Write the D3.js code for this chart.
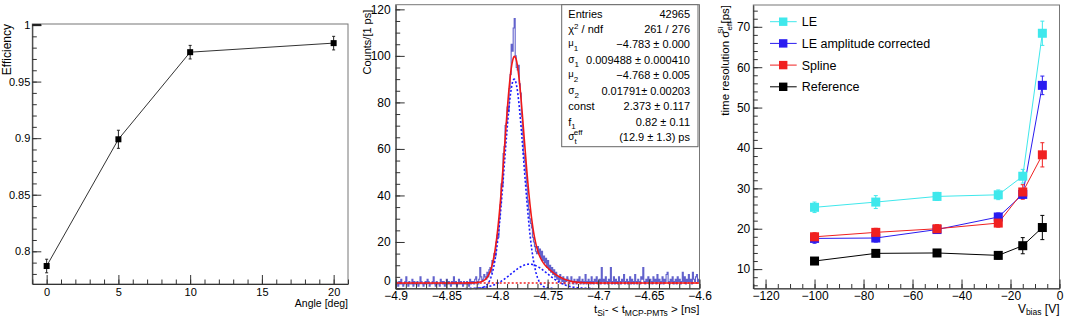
<!DOCTYPE html>
<html><head><meta charset="utf-8">
<script src="https://cdn.jsdelivr.net/npm/d3@7"></script>
<style>
body{margin:0;background:#fff;}
svg{display:block;font-family:"Liberation Sans",Arial,sans-serif;}
</style></head>
<body>
<svg id="c" width="1065" height="318"></svg>
<script>
// ---------- Panel 1 data ----------
const effAngle = [0, 5, 10, 20];
const effValue = [0.787, 0.899, 0.976, 0.984];
const effErr   = [0.006, 0.008, 0.006, 0.006];
const effXTicks = [0, 5, 10, 15, 20];
const effYTicks = [0.8, 0.85, 0.9, 0.95, 1];

// ---------- Panel 2 data (1 ps bins from -4.9 to -4.6 ns) ----------
const histLow = -4.9, histBinW = 0.001;
const histCounts = [
3,2,1,3,2,4,2,1,2,3, 5,2,1,3,2,2,4,1,3,2, 2,3,1,2,5,3,2,1,2,3, 2,4,3,1,2,2,3,5,2,1,
3,2,2,1,4,3,2,3,1,2, 4,2,3,2,1,3,2,5,2,3, 1,2,4,2,3,2,1,3,2,2, 3,2,1,4,2,3,3,2,4,5,
3,2,4,9,5,3,4,6,5,4, 7,5,8,9,7,12,11,15,14,20, 23,22,30,36,45,44,58,61,70,71,
78,76,86,92,105,102,112,116,100,95, 94,96,88,84,74,66,58,55,50,44, 38,34,30,28,26,22,20,18,16,15,
18,15,17,13,16,12,14,11,13,9, 12,8,10,7,9,6,8,5,7,4,
5,3,6,4,3,5,2,4,3,5, 4,2,3,5,3,2,4,3,2,4, 3,5,2,3,4,2,3,6,2,3, 4,3,2,5,3,2,4,3,5,2,
3,4,2,9,3,4,2,5,3,2, 4,3,9,2,3,5,2,4,3,2, 5,3,2,4,3,6,2,3,4,2, 3,5,2,4,3,2,6,3,2,4,
3,2,5,4,9,3,2,4,3,5, 2,4,3,2,5,3,4,2,6,3, 4,2,3,5,2,4,3,6,7,3, 2,4,3,5,2,3,4,2,5,3,
4,2,3,7,3,5,2,4,3,6, 3,4,2,7,4,3,5,6,3,4];
// fit parameters (from stats box)
const fitMu1 = -4.783, fitSigma1 = 0.009488, fitMu2 = -4.768, fitSigma2 = 0.01791;
const fitConst = 2.373, fitF1 = 0.82, fitNorm = 2.61;
const statRows = [
  ["Entries","42965"],["chi","261 / 276"],["mu1","\u22124.783 \u00b1 0.000"],
  ["sig1","0.009488 \u00b1 0.000410"],["mu2","\u22124.768 \u00b1 0.005"],
  ["sig2","0.01791\u00b1 0.00203"],["const","2.373 \u00b1 0.117"],["f1","0.82 \u00b1 0.11"],
  ["eff","(12.9 \u00b1 1.3) ps"]];
const histXTicks = [-4.9,-4.85,-4.8,-4.75,-4.7,-4.65,-4.6];
const histYTicks = [0,20,40,60,80,100,120];

// ---------- Panel 3 data ----------
const vbias = [-100, -75, -50, -25, -15, -7];
const leVals = [25.3, 26.6, 28.0, 28.4, 33.0, 68.4];
const leErr  = [1.3, 1.6, 1.0, 1.2, 1.7, 3.0];
const leAmpVals = [17.6, 17.7, 19.8, 22.9, 28.5, 55.5];
const leAmpErr  = [1.2, 1.0, 0.9, 1.0, 1.0, 2.3];
const splineVals = [18.0, 19.1, 20.0, 21.4, 29.1, 38.3];
const splineErr  = [1.0, 1.0, 1.0, 1.0, 1.8, 3.0];
const refVals = [12.0, 13.9, 14.0, 13.4, 15.8, 20.3];
const refErr  = [0.6, 0.6, 0.6, 0.9, 2.0, 3.0];
const seriesNames = ["LE","LE amplitude corrected","Spline","Reference"];
const seriesColors = ["#3fe8ec","#2a1cf0","#f02020","#000000"];
const resXTicks = [-120,-100,-80,-60,-40,-20,0];
const resYTicks = [10,20,30,40,50,60,70];

const svg = d3.select("#c");
svg.append("rect").attr("width",1065).attr("height",318).attr("fill","#fff");
const minus = s => String(s).replace("-","\u2212");

function inAxes(g, x, y, o) {
  g.append("g").attr("transform",`translate(0,${o.bottom})`)
    .call(d3.axisBottom(x).tickValues(o.xMinor).tickSize(-o.minorLen).tickFormat("").tickSizeOuter(0))
    .call(s=>s.select(".domain").remove());
  g.append("g").attr("transform",`translate(${o.left},0)`)
    .call(d3.axisLeft(y).tickValues(o.yMinor).tickSize(-o.minorLen).tickFormat("").tickSizeOuter(0))
    .call(s=>s.select(".domain").remove());
  const xa = g.append("g").attr("transform",`translate(0,${o.bottom})`)
    .call(d3.axisBottom(x).tickValues(o.xMajor).tickSize(-o.majorLen).tickPadding(o.xPad).tickSizeOuter(0).tickFormat(o.xFmt));
  const ya = g.append("g").attr("transform",`translate(${o.left},0)`)
    .call(d3.axisLeft(y).tickValues(o.yMajor).tickSize(-o.majorLen).tickPadding(o.yPad).tickSizeOuter(0).tickFormat(o.yFmt));
  [xa,ya].forEach(a=>{
    a.selectAll("text").attr("font-size",o.fs).attr("fill","#000").attr("font-family","Liberation Sans, Arial, sans-serif");
    a.selectAll("line").attr("stroke","#333");
    a.select(".domain").attr("stroke","#333");
  });
  g.selectAll("line").attr("stroke","#333");
  return {xa, ya};
}

// ================= Panel 1 =================
{
  const L=32.3,R=348,T=24,B=284;
  const x = d3.scaleLinear().domain([-1,21]).range([L,R]);
  const y = d3.scaleLinear().domain([0.7711,1.0009]).range([B,T]);
  const g = svg.append("g");
  g.append("rect").attr("x",L).attr("y",T).attr("width",R-L).attr("height",B-T).attr("fill","none").attr("stroke","#777");
  inAxes(g,x,y,{bottom:B,left:L,top:T,majorLen:9,minorLen:4.5,xPad:4,yPad:2,fs:11,
    xMajor:effXTicks,xMinor:d3.range(-1,22,1),yMajor:effYTicks,yMinor:d3.range(0.78,1.0001,0.01),
    xFmt:d3.format("d"),yFmt:d=>d===1?"1":d3.format(".2~f")(d)});
  g.append("line").attr("x1",L).attr("x2",L+9).attr("y1",y(1)).attr("y2",y(1)).attr("stroke","#222").attr("stroke-width",2.2);
  g.append("path").datum(effAngle.map((a,i)=>[a,effValue[i]]))
    .attr("d",d3.line().x(d=>x(d[0])).y(d=>y(d[1]))).attr("fill","none").attr("stroke","#333").attr("stroke-width",1);
  effAngle.forEach((a,i)=>{
    const cx=x(a), y1=y(effValue[i]+effErr[i]), y2=y(effValue[i]-effErr[i]);
    g.append("line").attr("x1",cx).attr("x2",cx).attr("y1",y1).attr("y2",y2).attr("stroke","#222");
    [y1,y2].forEach(yy=>g.append("line").attr("x1",cx-1.5).attr("x2",cx+1.5).attr("y1",yy).attr("y2",yy).attr("stroke","#222"));
    g.append("rect").attr("x",cx-3).attr("y",y(effValue[i])-3).attr("width",6).attr("height",6).attr("fill","#000");
  });
  g.append("text").attr("transform",`translate(11,${T}) rotate(-90)`).attr("text-anchor","end")
    .attr("font-size",12).text("Efficiency");
  g.append("text").attr("x",R).attr("y",306.5).attr("text-anchor","end").attr("font-size",10.5).text("Angle [deg]");
}

// ================= Panel 2 =================
{
  const L=395.7,R=699.5,T=4.7,B=288.5;
  const x = d3.scaleLinear().domain([-4.9,-4.6]).range([L,R]);
  const y = d3.scaleLinear().domain([0,122]).range([B,T]);
  const g = svg.append("g");
  const pts=[];
  histCounts.forEach((c,i)=>{ const x0=histLow+i*histBinW; pts.push([x0,c],[x0+histBinW,c]); });
  g.append("path").datum(pts).attr("d",d3.line().x(d=>x(d[0])).y(d=>y(d[1])))
    .attr("fill","none").attr("stroke","#6262cc").attr("stroke-width",1.1);
  const gs = (v,m,s)=>Math.exp(-0.5*((v-m)/s)**2);
  const A1 = fitNorm*fitF1/(fitSigma1*Math.sqrt(2*Math.PI));
  const A2 = fitNorm*(1-fitF1)/(fitSigma2*Math.sqrt(2*Math.PI));
  const xs = d3.range(-4.9,-4.6+1e-9,0.0005);
  const ln = d3.line().x(d=>x(d[0])).y(d=>y(d[1]));
  g.append("path").datum(xs.map(v=>[v,A1*gs(v,fitMu1,fitSigma1)]).filter(d=>d[1]>0.02)).attr("d",ln)
    .attr("fill","none").attr("stroke","#1a1aff").attr("stroke-width",1.6).attr("stroke-dasharray","2,2");
  g.append("path").datum(xs.map(v=>[v,A2*gs(v,fitMu2,fitSigma2)]).filter(d=>d[1]>0.02)).attr("d",ln)
    .attr("fill","none").attr("stroke","#1a1aff").attr("stroke-width",1.6).attr("stroke-dasharray","2,2");
  g.append("path").datum([[-4.9,fitConst],[-4.6,fitConst]]).attr("d",ln)
    .attr("fill","none").attr("stroke","#f02020").attr("stroke-width",1.4).attr("stroke-dasharray","2,2");
  g.append("path").datum(xs.map(v=>[v,A1*gs(v,fitMu1,fitSigma1)+A2*gs(v,fitMu2,fitSigma2)+fitConst])).attr("d",ln)
    .attr("fill","none").attr("stroke","#f01818").attr("stroke-width",1.6);
  g.append("rect").attr("x",L).attr("y",T).attr("width",R-L).attr("height",B-T).attr("fill","none").attr("stroke","#777");
  const ax = inAxes(g,x,y,{bottom:B,left:L,top:T,majorLen:9,minorLen:4.5,xPad:3,yPad:5,fs:12,
    xMajor:histXTicks,xMinor:d3.range(0,31).map(i=>-4.9+i*0.01),yMajor:histYTicks,yMinor:d3.range(0,122,5),
    xFmt:d=>minus(d3.format(".3~f")(d)),yFmt:d3.format("d")});
  ax.ya.selectAll(".tick text").filter(d=>d===0).attr("dy","-0.3em");
  // stats box
  const bx=561.7,by=T,bw=R-bx-1.5,bh=142;
  g.append("rect").attr("x",bx).attr("y",by).attr("width",bw).attr("height",bh).attr("fill","#fff").attr("stroke","#666");
  statRows.forEach((r,i)=>{
    const yy=17.5+i*15.45;
    const t=g.append("text").attr("x",568.3).attr("y",yy).attr("font-size",11);
    const k=r[0];
    if(k==="chi"){ t.text("\u03c7"); t.append("tspan").attr("dy",-4).attr("font-size",8).text("2"); t.append("tspan").attr("dy",4).text(" / ndf"); }
    else if(k==="mu1"||k==="mu2"){ t.append("tspan").attr("font-size",9.5).attr("dy",-2).text("\u03bc"); t.append("tspan").attr("dy",5).attr("font-size",8).text(k==="mu1"?"1":"2"); }
    else if(k==="sig1"||k==="sig2"){ t.append("tspan").attr("font-size",10).attr("dy",-1).text("\u03c3"); t.append("tspan").attr("dy",4).attr("font-size",8).text(k==="sig1"?"1":"2"); }
    else if(k==="f1"){ t.text("f"); t.append("tspan").attr("dy",3).attr("font-size",8).text("1"); }
    else if(k==="eff"){ t.append("tspan").attr("font-size",10).attr("dy",-1).text("\u03c3"); t.append("tspan").attr("dy",4).attr("font-size",8).text("t");
      t.append("tspan").attr("dx",-3).attr("dy",-9).attr("font-size",8).text("eff"); }
    else t.text(k);
    g.append("text").attr("x",690).attr("y",yy).attr("text-anchor","end").attr("font-size",11).text(r[1]);
  });
  g.append("text").attr("transform",`translate(370.5,${T+5}) rotate(-90)`).attr("text-anchor","end")
    .attr("font-size",11).text("Counts/[1 ps]");
  const xt=g.append("text").attr("x",R).attr("y",313).attr("text-anchor","end").attr("font-size",11.5);
  xt.append("tspan").text("t"); xt.append("tspan").attr("dy",2.5).attr("font-size",8.5).text("Si");
  xt.append("tspan").attr("dy",-2.5).text("- < t"); xt.append("tspan").attr("dy",2.5).attr("font-size",8.5).text("MCP-PMTs");
  xt.append("tspan").attr("dy",-2.5).text(" > [ns]");
}

// ================= Panel 3 =================
{
  const L=753.3,R=1059.5,T=5,B=288.5;
  const x = d3.scaleLinear().domain([-125,0]).range([L,R]);
  const y = d3.scaleLinear().domain([5.2,75.4]).range([B,T]);
  const g = svg.append("g");
  g.append("rect").attr("x",L).attr("y",T).attr("width",R-L).attr("height",B-T).attr("fill","none").attr("stroke","#777");
  inAxes(g,x,y,{bottom:B,left:L,top:T,majorLen:9,minorLen:4.5,xPad:3,yPad:3,fs:12,
    xMajor:resXTicks,xMinor:d3.range(-125,1,5),yMajor:resYTicks,yMinor:d3.range(6,75,2),
    xFmt:d=>minus(d3.format("d")(d)),yFmt:d3.format("d")});
  const all=[[leVals,leErr],[leAmpVals,leAmpErr],[splineVals,splineErr],[refVals,refErr]];
  all.forEach(([vals,errs],si)=>{
    const col=seriesColors[si];
    g.append("path").datum(vbias.map((v,i)=>[v,vals[i]])).attr("d",d3.line().x(d=>x(d[0])).y(d=>y(d[1])))
      .attr("fill","none").attr("stroke",col).attr("stroke-width",1);
    vbias.forEach((v,i)=>{
      const cx=x(v), y1=y(vals[i]+errs[i]), y2=y(vals[i]-errs[i]);
      g.append("line").attr("x1",cx).attr("x2",cx).attr("y1",y1).attr("y2",y2).attr("stroke",col);
      [y1,y2].forEach(yy=>g.append("line").attr("x1",cx-2).attr("x2",cx+2).attr("y1",yy).attr("y2",yy).attr("stroke",col));
    });
  });
  all.forEach(([vals],si)=>{
    vbias.forEach((v,i)=>g.append("rect").attr("x",x(v)-4.5).attr("y",y(vals[i])-4.5).attr("width",9).attr("height",9).attr("fill",seriesColors[si]));
  });
  seriesNames.forEach((n,i)=>{
    const yy=21.7+i*21.7;
    g.append("line").attr("x1",770).attr("x2",796.7).attr("y1",yy).attr("y2",yy).attr("stroke",seriesColors[i]);
    g.append("rect").attr("x",783.2-4.2).attr("y",yy-4.2).attr("width",8.4).attr("height",8.4).attr("fill",seriesColors[i]);
    g.append("text").attr("x",801.7).attr("y",yy+4.5).attr("font-size",12.5).text(n);
  });
  const yt=g.append("text").attr("transform",`translate(729,${T}) rotate(-90)`).attr("text-anchor","end").attr("font-size",11.5);
  yt.append("tspan").text("time resolution \u03c3");
  yt.append("tspan").attr("dy",3).attr("font-size",8).text("eff");
  yt.append("tspan").attr("dx",-12).attr("dy",-9).attr("font-size",8).text("Si");
  yt.append("tspan").attr("dy",6).text(" [ps]");
  const xt=g.append("text").attr("x",R).attr("y",313).attr("text-anchor","end").attr("font-size",12);
  xt.append("tspan").text("V"); xt.append("tspan").attr("dy",2).attr("font-size",8.5).text("bias");
  xt.append("tspan").attr("dy",-2).text(" [V]");
}
</script>
</body></html>
